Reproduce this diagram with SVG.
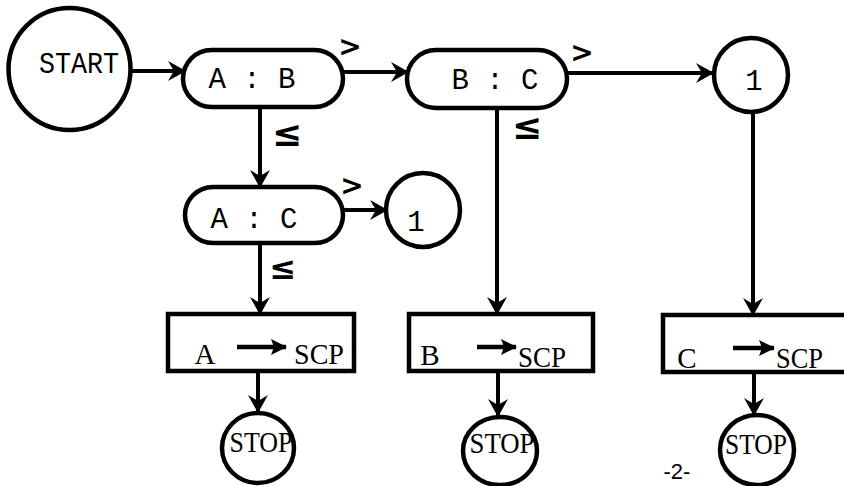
<svg xmlns="http://www.w3.org/2000/svg" width="844" height="486" viewBox="0 0 844 486">
<style>
.n{fill:#fff;stroke:#000;stroke-width:4.5}
.c{fill:none;stroke:#000;stroke-width:4}
.ia{fill:none;stroke:#000;stroke-width:4.5}
.mono{font-family:"Liberation Mono","Courier New",monospace;font-size:29px;fill:#000}
.serif{font-family:"Liberation Serif","Times New Roman",serif;font-size:29px;fill:#000}
.gt{font-family:"DejaVu Sans",sans-serif;font-weight:bold;font-size:28px;fill:#000}
.le{font-family:"DejaVu Sans",sans-serif;font-weight:bold;font-size:36px;fill:#000}
</style>
<defs>
<marker id="ah" markerUnits="userSpaceOnUse" markerWidth="20" markerHeight="22" refX="18" refY="11" orient="auto">
<path d="M1,1 L19,11 L1,21 L7,11 Z" fill="#000"/>
</marker>
<marker id="ai" markerUnits="userSpaceOnUse" markerWidth="18" markerHeight="18" refX="16" refY="9" orient="auto">
<path d="M1,1 L17,9 L1,17 L4,9 Z" fill="#000"/>
</marker>
</defs>
<rect width="844" height="486" fill="#fff"/>
<g id="connectors">
<path class="c" d="M131,71 H185" marker-end="url(#ah)"/>
<path class="c" d="M343,72 H408" marker-end="url(#ah)"/>
<path class="c" d="M567,73 H713" marker-end="url(#ah)"/>
<path class="c" d="M260,107 V187" marker-end="url(#ah)"/>
<path class="c" d="M343,210 H387" marker-end="url(#ah)"/>
<path class="c" d="M260,243 V314" marker-end="url(#ah)"/>
<path class="c" d="M497,108 V314" marker-end="url(#ah)"/>
<path class="c" d="M753,112 V315" marker-end="url(#ah)"/>
<path class="c" d="M258,371 V412" marker-end="url(#ah)"/>
<path class="c" d="M498,371 V416" marker-end="url(#ah)"/>
<path class="c" d="M754,372 V415" marker-end="url(#ah)"/>
<text class="gt" x="350" y="56" text-anchor="middle">&gt;</text>
<text class="gt" x="582" y="62" text-anchor="middle">&gt;</text>
<text class="gt" x="352" y="195" text-anchor="middle">&gt;</text>
<text class="le" x="287" y="146" text-anchor="middle">≤</text>
<text class="le" x="283" y="279" text-anchor="middle" style="font-size:32px">≤</text>
<text class="le" x="527" y="139" text-anchor="middle">≤</text>
</g>
<g id="start">
<circle class="n" cx="69.5" cy="69" r="61"/>
<text class="mono" x="79" y="73" text-anchor="middle" textLength="80" lengthAdjust="spacingAndGlyphs">START</text>
</g>
<g id="ab">
<rect class="n" x="183" y="50" width="160" height="57" rx="28.5"/>
<text class="mono" x="252" y="88" text-anchor="middle">A : B</text>
</g>
<g id="bc">
<rect class="n" x="407" y="50" width="160" height="58" rx="29"/>
<text class="mono" x="495" y="89" text-anchor="middle">B : C</text>
</g>
<g id="one-a">
<circle class="n" cx="751" cy="75" r="37"/>
<text class="mono" x="754" y="90" text-anchor="middle">1</text>
</g>
<g id="ac">
<rect class="n" x="185" y="187" width="158" height="56" rx="28"/>
<text class="mono" x="254" y="228" text-anchor="middle">A : C</text>
</g>
<g id="one-b">
<circle class="n" cx="423" cy="210" r="37"/>
<text class="mono" x="416" y="231" text-anchor="middle">1</text>
</g>
<g id="box-a">
<rect class="n" x="168" y="314" width="186" height="57"/>
<text class="serif" x="205" y="364" text-anchor="middle">A</text>
<path class="ia" d="M237,347 H286" marker-end="url(#ai)"/>
<text class="serif" x="294" y="364" textLength="50" lengthAdjust="spacingAndGlyphs">SCP</text>
</g>
<g id="box-b">
<rect class="n" x="409" y="314" width="184" height="57"/>
<text class="serif" x="430" y="365" text-anchor="middle">B</text>
<path class="ia" d="M477,347 H516" marker-end="url(#ai)"/>
<text class="serif" x="518" y="367" textLength="48" lengthAdjust="spacingAndGlyphs">SCP</text>
</g>
<g id="box-c">
<rect class="n" x="663" y="315" width="200" height="57"/>
<text class="serif" x="687" y="368" text-anchor="middle">C</text>
<path class="ia" d="M733,348 H774" marker-end="url(#ai)"/>
<text class="serif" x="776" y="368" textLength="47" lengthAdjust="spacingAndGlyphs">SCP</text>
</g>
<g id="stop-a">
<ellipse class="n" cx="258" cy="448" rx="36" ry="35"/>
<text class="serif" x="261" y="452" text-anchor="middle" textLength="63" lengthAdjust="spacingAndGlyphs">STOP</text>
</g>
<g id="stop-b">
<ellipse class="n" cx="500" cy="451" rx="37" ry="34"/>
<text class="serif" x="502" y="453" text-anchor="middle" textLength="65" lengthAdjust="spacingAndGlyphs">STOP</text>
</g>
<g id="stop-c">
<ellipse class="n" cx="757" cy="450" rx="37" ry="35"/>
<text class="serif" x="756" y="454" text-anchor="middle" textLength="62" lengthAdjust="spacingAndGlyphs">STOP</text>
</g>
<text x="677" y="479" font-family="Liberation Sans, Arial, sans-serif" font-size="22" text-anchor="middle" fill="#000">-2-</text>
</svg>
